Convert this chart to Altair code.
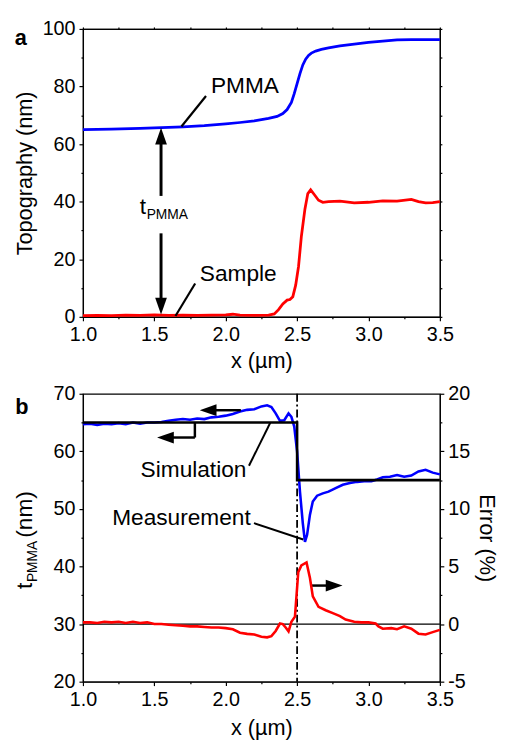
import altair as alt
import pandas as pd

FONT = "Liberation Sans"

# ---------------- panel a: topography ----------------
pmma_x = [1.0, 1.2, 1.4, 1.55, 1.7, 1.85, 2.0, 2.1, 2.2, 2.3, 2.36, 2.4, 2.43, 2.46, 2.48, 2.5,
          2.52, 2.54, 2.56, 2.58, 2.6, 2.63, 2.67, 2.72, 2.8, 2.9, 3.0, 3.1, 3.2, 3.3, 3.4, 3.5]
pmma_y = [65.0, 65.2, 65.5, 65.75, 66.0, 66.4, 67.0, 67.5, 68.1, 68.9, 69.6, 70.6, 72.0, 74.5, 77.5, 81.0,
          84.5, 87.5, 89.5, 90.8, 91.6, 92.3, 92.9, 93.4, 94.1, 94.7, 95.3, 95.8, 96.2, 96.3, 96.3, 96.3]

sample_x = [1.0, 1.1, 1.2, 1.3, 1.4, 1.5, 1.6, 1.7, 1.8, 1.9, 2.0, 2.05, 2.1, 2.2, 2.3, 2.34, 2.37, 2.4,
            2.43, 2.45, 2.47, 2.49, 2.51, 2.53, 2.555, 2.575, 2.595, 2.62, 2.65, 2.68, 2.72, 2.8, 2.9,
            3.0, 3.1, 3.2, 3.3, 3.35, 3.4, 3.45, 3.5]
sample_y = [0.4, 0.5, 0.4, 0.6, 0.5, 0.7, 0.5, 0.6, 0.5, 0.6, 0.7, 0.9, 0.6, 0.5, 0.6, 1.0, 2.5, 4.5,
            5.8, 6.0, 7.0, 11.0, 17.5, 28.0, 37.5, 42.8, 44.1, 42.5, 40.5, 39.8, 40.0, 40.2, 39.6,
            39.8, 40.3, 40.2, 40.8, 40.0, 39.6, 39.7, 40.0]

# ---------------- panel b: thickness and error ----------------
meas_x = [1.0, 1.05, 1.1, 1.15, 1.2, 1.25, 1.3, 1.35, 1.4, 1.45, 1.5, 1.55, 1.6, 1.65, 1.7, 1.75, 1.8,
          1.85, 1.9, 1.95, 2.0, 2.05, 2.1, 2.15, 2.2, 2.25, 2.29, 2.32, 2.35, 2.38, 2.41, 2.44, 2.46,
          2.48, 2.5, 2.52, 2.54, 2.555, 2.57, 2.59, 2.61, 2.64, 2.68, 2.72, 2.77, 2.82, 2.87, 2.92,
          2.97, 3.02, 3.06, 3.1, 3.15, 3.2, 3.25, 3.3, 3.35, 3.4, 3.45, 3.5]
meas_y = [64.7, 64.8, 64.6, 64.8, 64.7, 64.9, 64.7, 65.0, 64.8, 65.0, 65.0, 65.1, 65.3, 65.5, 65.6, 65.5,
          65.7, 65.6, 65.9, 66.0, 66.2, 66.5, 66.9, 67.2, 67.3, 67.8, 68.0, 67.7, 66.6, 65.3, 65.4,
          66.6, 66.0, 64.3, 60.0, 53.0, 47.5, 44.3, 45.5, 49.0, 51.3, 52.3, 52.7, 53.0, 53.6, 54.2,
          54.5, 54.7, 54.8, 54.8, 55.1, 55.5, 55.6, 55.9, 55.6, 55.8, 56.5, 56.8, 56.3, 56.0]

sim_x = [1.0, 2.5, 2.5, 3.5]
sim_y = [65.0, 65.0, 55.0, 55.0]

err_x = [1.0, 1.05, 1.1, 1.15, 1.2, 1.25, 1.3, 1.35, 1.4, 1.45, 1.5, 1.55, 1.6, 1.65, 1.7, 1.75, 1.8,
         1.85, 1.9, 1.95, 2.0, 2.05, 2.1, 2.15, 2.2, 2.25, 2.29, 2.32, 2.35, 2.38, 2.4, 2.42, 2.44,
         2.46, 2.485, 2.508, 2.53, 2.566, 2.59, 2.61, 2.65, 2.7, 2.75, 2.8, 2.84, 2.9, 2.95, 3.0,
         3.05, 3.07, 3.1, 3.16, 3.2, 3.25, 3.3, 3.35, 3.4, 3.45, 3.5]
err_y = [0.15, 0.15, 0.1, 0.2, 0.15, 0.2, 0.1, 0.2, 0.1, 0.15, 0.0, 0.0, -0.05, -0.1, -0.15, -0.2, -0.2,
         -0.25, -0.3, -0.3, -0.35, -0.45, -0.75, -0.85, -0.9, -1.1, -1.15, -1.05, -0.6, 0.05, 0.0,
         -0.3, -0.63, 0.2, 0.65, 4.5, 5.1, 5.35, 4.0, 2.4, 1.5, 1.2, 0.95, 0.7, 0.4, 0.2, 0.15, 0.15,
         0.05, -0.2, -0.4, -0.35, -0.45, -0.2, -0.4, -0.83, -0.9, -0.7, -0.5]

# tick positions (major + minor)
x_ticks = [1.0, 1.25, 1.5, 1.75, 2.0, 2.25, 2.5, 2.75, 3.0, 3.25, 3.5]
a_y_ticks = [0, 10, 20, 30, 40, 50, 60, 70, 80, 90, 100]
b_y_ticks = [20, 25, 30, 35, 40, 45, 50, 55, 60, 65, 70]
b_err_ticks = [-5, -2.5, 0, 2.5, 5, 7.5, 10, 12.5, 15, 17.5, 20]

# arrowhead shapes (tip at the data point)
UP = "M0,0L-0.7,2L0.7,2Z"
DOWN = "M0,0L-0.7,-2L0.7,-2Z"
LEFT = "M0,0L2,-0.7L2,0.7Z"
RIGHT = "M0,0L-2,-0.7L-2,0.7Z"

W, H = 362, 292

XSCALE = alt.Scale(domain=[1.0, 3.5], nice=False, zero=False)
YA_SCALE = alt.Scale(domain=[0, 100], nice=False, zero=False)


def tick_size(test):
    return {"condition": {"test": test, "value": 2}, "value": 4}


def x_enc(tp=6):
    return alt.X("x:Q", scale=XSCALE,
                 axis=alt.Axis(title="x (µm)", values=x_ticks, titlePadding=tp,
                               labelExpr="round(datum.value*4)%2==0 ? format(datum.value,'.1f') : ''",
                               tickSize=tick_size("round(datum.value*4)%2!=0")))


def ya_enc():
    return alt.Y("y:Q", scale=YA_SCALE,
                 axis=alt.Axis(title="Topography (nm)", values=a_y_ticks,
                               labelExpr="round(datum.value)%20==0 ? ''+datum.value : ''",
                               tickSize=tick_size("round(datum.value)%20!=0")))


def yb_enc():
    return alt.Y("y:Q", scale=alt.Scale(domain=[20, 70], nice=False, zero=False),
                 axis=alt.Axis(title=None, values=b_y_ticks,
                               labelExpr="round(datum.value)%10==0 ? ''+datum.value : ''",
                               tickSize=tick_size("round(datum.value)%10!=0")))


def ye_enc():
    return alt.Y("y:Q", scale=alt.Scale(domain=[-5, 20], nice=False, zero=False),
                 axis=alt.Axis(title="Error (%)", orient="right", values=b_err_ticks, titlePadding=5,
                               labelExpr="round(datum.value*2)%10==0 ? ''+datum.value : ''",
                               tickSize=tick_size("round(datum.value*2)%10!=0")))


def line(xs, ys, color, y_enc, w=2.6, tp=6):
    df = pd.DataFrame({"x": xs, "y": ys, "i": list(range(len(xs)))})
    return alt.Chart(df).mark_line(color=color, strokeWidth=w).encode(
        x=x_enc(tp), y=y_enc, order="i:Q")


def segs(df, y_enc, tp=6):
    return alt.Chart(df).mark_rule(color="black").encode(
        x=x_enc(tp), y=y_enc, x2="x2:Q", y2="y2:Q", strokeWidth=alt.StrokeWidth("w:Q", scale=None))


def heads(df, y_enc, tp=6):
    return alt.Chart(df).mark_point(filled=True, color="black", opacity=1, size=289, strokeWidth=0).encode(
        x=x_enc(tp), y=y_enc, shape=alt.Shape("shape:N", scale=None))


def texts(df, y_enc, size=23, dx=0, dy=0, tp=6):
    return alt.Chart(df).mark_text(font=FONT, fontSize=size, align="left", baseline="alphabetic",
                                   color="black", dx=dx, dy=dy).encode(
        x=x_enc(tp), y=y_enc, text="label:N")


def px_text(label, x, y, size=22, weight="normal", angle=0, align="center", baseline="middle"):
    kw = dict(font=FONT, fontSize=size, fontWeight=weight, color="black", align=align, baseline=baseline)
    if angle:
        kw["angle"] = angle
    return alt.Chart(pd.DataFrame({"label": [label]})).mark_text(**kw).encode(
        x=alt.value(x), y=alt.value(y), text="label:N")


# ---------- panel a annotations ----------
a_seg = pd.DataFrame({"x": [1.862, 1.786, 1.547, 1.547], "y": [76.7, 11.6, 42.0, 29.0],
                      "x2": [1.69, 1.648, 1.547, 1.547], "y2": [66.1, 0.3, 61.0, 6.0],
                      "w": [2.2, 2.2, 3.0, 3.0]})
a_heads = pd.DataFrame({"x": [1.547, 1.547], "y": [65.7, 0.8], "shape": [UP, DOWN]})
a_text = pd.DataFrame({"x": [1.897, 1.819], "y": [77.7, 12.6], "label": ["PMMA", "Sample"]})
a_t = pd.DataFrame({"x": [1.398], "y": [35.6], "label": ["t"]})
a_sub = pd.DataFrame({"x": [1.398], "y": [35.6], "label": ["PMMA"]})

content_a = alt.layer(
    line(pmma_x, pmma_y, "#0000ff", ya_enc(), 2.8),
    line(sample_x, sample_y, "#ff0000", ya_enc(), 2.8),
    segs(a_seg, ya_enc()),
    heads(a_heads, ya_enc()),
    texts(a_text, ya_enc()),
    texts(a_t, ya_enc()),
    texts(a_sub, ya_enc(), size=14, dx=7, dy=5),
    px_text("a", -63, 9, size=22, weight="bold"),
)

# mirrored top / right axes (ticks only) for panel a
mirror_a = alt.Chart(pd.DataFrame({"x": [1.0, 3.5], "y": [0, 100]})).mark_point(opacity=0).encode(
    x=alt.X("x:Q", scale=XSCALE, axis=alt.Axis(orient="top", title=None, labels=False,
                                               values=x_ticks, tickSize=2)),
    y=alt.Y("y:Q", scale=YA_SCALE, axis=alt.Axis(orient="right", title=None, labels=False,
                                                 values=a_y_ticks, tickSize=2)),
)

panel_a = alt.layer(content_a, mirror_a).resolve_axis(x="independent", y="independent").properties(
    width=W, height=H)

# ---------- panel b annotations ----------
TPB = 9
b_seg = pd.DataFrame({"x": [2.163, 2.198, 2.106, 1.784, 1.784, 2.6],
                      "y": [57.5, 47.54, 67.14, 65.0, 62.4, 36.69],
                      "x2": [2.312, 2.543, 1.93, 1.784, 1.63, 2.72],
                      "y2": [64.97, 44.69, 67.14, 62.4, 62.4, 36.69],
                      "w": [2.0, 2.0, 2.5, 2.5, 2.5, 2.5]})
b_heads = pd.DataFrame({"x": [1.818, 1.519, 2.818], "y": [67.14, 62.4, 36.69], "shape": [LEFT, LEFT, RIGHT]})
b_text = pd.DataFrame({"x": [1.404, 1.205], "y": [55.56, 47.17], "label": ["Simulation", "Measurement"]})

zero_line = alt.Chart(pd.DataFrame({"y": [30]})).mark_rule(color="black", strokeWidth=1.2).encode(y=yb_enc())
div_line = alt.Chart(pd.DataFrame({"x": [2.5]})).mark_rule(
    color="black", strokeWidth=1.8, strokeDash=[8, 3, 2, 3]).encode(x=x_enc(TPB))

left_group = alt.layer(
    zero_line,
    div_line,
    line(meas_x, meas_y, "#0000ff", yb_enc(), 2.6, TPB),
    line(sim_x, sim_y, "black", yb_enc(), 2.6, TPB),
    segs(b_seg, yb_enc(), TPB),
    heads(b_heads, yb_enc(), TPB),
    texts(b_text, yb_enc(), tp=TPB),
    px_text("b", -62, 14, size=22, weight="bold"),
    px_text("t", -52, 198, size=23, angle=270, align="left", baseline="alphabetic"),
    px_text("PMMA", -47, 191, size=14, angle=270, align="left", baseline="alphabetic"),
    px_text("(nm)", -52, 146, size=23, angle=270, align="left", baseline="alphabetic"),
)

err_layer = line(err_x, err_y, "#ff0000", ye_enc(), 2.6, TPB)

panel_b = alt.layer(left_group, err_layer).resolve_scale(y="independent").properties(width=W, height=H)

chart = alt.vconcat(panel_a, panel_b, spacing=78, bounds="flush").properties(
    padding={"left": 5, "top": 5, "right": 4, "bottom": 0}
).configure_axis(
    labelFont=FONT, labelFontSize=20, labelColor="black", labelPadding=4, labelFlush=False,
    labelOverlap=False, titleFont=FONT, titleFontSize=22, titleFontWeight="normal", titleColor="black",
    titlePadding=6, domainColor="black", domainWidth=1.2, tickColor="black", tickWidth=1.2, grid=False
).configure_view(stroke="black", strokeWidth=1.2)

chart.save("out.html", embed_options={"renderer": "svg", "actions": False})
